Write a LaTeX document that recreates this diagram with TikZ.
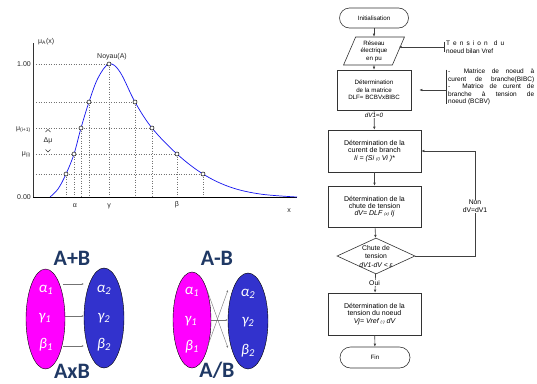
\documentclass[tikz,border=0pt]{standalone}
\usepackage{fontspec}
\setmainfont{Liberation Sans}
\newfontfamily\calfont{Carlito}
\usetikzlibrary{arrows.meta,shapes.geometric}
\definecolor{curveblue}{RGB}{20,20,240}
\definecolor{mag}{RGB}{255,0,255}
\definecolor{ellblue}{RGB}{50,50,205}
\definecolor{navy}{RGB}{31,56,100}
\begin{document}
\begin{tikzpicture}[x=1pt,y=-1pt,
  lab/.style={font=\fontsize{7}{8}\selectfont, text=black!85, inner sep=0pt},
  gridline/.style={black!55, dotted, line width=0.5pt},
  mk/.style={circle, draw=black, fill=white, line width=0.5pt, inner sep=0pt, minimum size=4pt},
  fcbox/.style={draw=black!80, line width=0.6pt, align=center, inner sep=1pt, font=\fontsize{6.2}{7.5}\selectfont},
  bigbox/.style={fcbox, font=\fontsize{7}{7.2}\selectfont},
  fctext/.style={align=center, inner sep=0.5pt, font=\fontsize{6.2}{7.5}\selectfont},
  notetext/.style={align=left, inner sep=0pt, font=\fontsize{6.5}{7.6}\selectfont},
  fcarrow/.style={draw=black!75, line width=0.6pt, -{Latex[length=3pt,width=2.6pt]}},
  thinarrow/.style={draw=black!55, line width=0.4pt, -{Latex[length=2.2pt,width=1.8pt]}},
  ell/.style={ellipse, draw=black, line width=0.4pt, inner sep=0pt},
  greek/.style={text=white, font=\calfont\itshape\fontsize{15}{15}\selectfont, inner sep=0pt},
  optitle/.style={text=navy, font=\calfont\bfseries\fontsize{22}{22}\selectfont, inner sep=0pt}
]
\useasboundingbox (0,0) rectangle (537,383);
\fill[white] (0,0) rectangle (537,383);

% ---------------- membership chart ----------------
\coordinate (o) at (33,197);
\coordinate (hs) at (36,197);
\coordinate (c1) at (66,174);
\coordinate (c2) at (74,154);
\coordinate (c3) at (81,128);
\coordinate (c4) at (89,102);
\coordinate (c5) at (109,64);
\coordinate (c6) at (135,102);
\coordinate (c7) at (152,128);
\coordinate (c8) at (177,154);
\coordinate (c9) at (203,174);

\foreach \c/\d in {c1/c9,c2/c8,c3/c7,c4/c6,c5/c5}{
  \draw[gridline] (hs |- \c) -- (\d);
}
\foreach \c in {c1,c2,c3,c4,c5,c6,c7,c8,c9}{
  \draw[gridline] (\c) -- (\c |- o);
}

\draw[black!80, line width=0.8pt] (33,43) -- (o);
\draw[black, line width=0.9pt] (o) -- (297,197);

\draw[curveblue, line width=0.7pt] plot[smooth, tension=0.6] coordinates {
  (50,197) (58,189) (66,174) (74,154) (81,128) (89,102) (98,78) (109,64)
  (120,72) (135,102) (152,128) (177,154) (203,174) (230,187) (260,194) (297,197)};

\foreach \c [count=\i] in {c1,c2,c3,c4,c5,c6,c7,c8,c9}{
  \node[mk] (p\i) at (\c) {};
}

\node[lab, anchor=west] (ylab) at (38,42) {μ\textsubscript{A}(x)};
\node[lab, anchor=east] (one) at (31,64) {1.00};
\node[lab, anchor=east] (zero) at (31,197) {0.00};
\node[lab, anchor=east] (mui1) at (31,130) {μ\textsubscript{(i+1)}};
\node[lab, anchor=east] (mui) at (31,155) {μ\textsubscript{(i)}};
\node[lab] (dmu) at (48,141) {Δμ};
\draw[black!80, line width=0.5pt] (45.5,132) -- (48,129.5) -- (50.5,132);
\draw[black!80, line width=0.5pt] (45.5,149.5) -- (48,152) -- (50.5,149.5);
\node[lab, anchor=south] (noyau) at (112,60) {Noyau(A)};
\node[lab] (alab) at (75,206) {α};
\node[lab] (glab) at (109,206) {γ};
\node[lab] (blab) at (177,205) {β};
\node[lab] (xlab) at (289,211) {x};

% ---------------- A+B / AxB ----------------
\node[ell, fill=mag, minimum width=39pt, minimum height=100pt] (m1) at (45.5,319) {};
\node[ell, fill=ellblue, minimum width=40pt, minimum height=100pt] (b1) at (104,318) {};
\node[greek] (a1) at (46,290) {α\textsubscript{1}};
\node[greek] (g1) at (45,318) {γ\textsubscript{1}};
\node[greek] (be1) at (46,345) {β\textsubscript{1}};
\node[greek] (a2) at (104,290) {α\textsubscript{2}};
\node[greek] (g2) at (104,318) {γ\textsubscript{2}};
\node[greek] (be2) at (104,345) {β\textsubscript{2}};
\coordinate (l1s) at (63,284); \coordinate (l1e) at (84,284);
\coordinate (l2s) at (65,316); \coordinate (l2e) at (84,316);
\coordinate (l3s) at (63,346); \coordinate (l3e) at (84,346);
\draw[thinarrow] (l1s) -- (l1e);
\draw[thinarrow] (l2s) -- (l2e);
\draw[thinarrow] (l3s) -- (l3e);
\node[optitle] (tplus) at (72,258) {A+B};
\node[optitle] (ttimes) at (72,371) {AxB};

% ---------------- A-B / A/B ----------------
\node[ell, fill=mag, minimum width=38pt, minimum height=96pt] (m2) at (192,320) {};
\node[ell, fill=ellblue, minimum width=40pt, minimum height=96pt] (b2) at (248,321) {};
\node[greek] (a3) at (192,292) {α\textsubscript{1}};
\node[greek] (g3) at (191,321) {γ\textsubscript{1}};
\node[greek] (be3) at (192,347) {β\textsubscript{1}};
\node[greek] (a4) at (248,294) {α\textsubscript{2}};
\node[greek] (g4) at (248,322) {γ\textsubscript{2}};
\node[greek] (be4) at (248,351) {β\textsubscript{2}};
\coordinate (x1s) at (207,290); \coordinate (x1e) at (228,348);
\coordinate (x2s) at (207,348); \coordinate (x2e) at (228,290);
\coordinate (x3s) at (211,320); \coordinate (x3e) at (228,320);
\draw[thinarrow] (x1s) -- (x1e);
\draw[thinarrow] (x2s) -- (x2e);
\draw[thinarrow] (x3s) -- (x3e);
\node[optitle] (tminus) at (217,258) {A-B};
\node[optitle] (tdiv) at (217,370) {A/B};

% ---------------- flowchart ----------------
\node[fcbox, rounded corners=10pt, minimum width=69pt, minimum height=20pt] (init) at (374,18) {Initialisation};
\node[fcbox, trapezium, trapezium left angle=67, trapezium right angle=113, trapezium stretches=true,
      minimum width=61pt, minimum height=28pt, inner sep=0pt] (res) at (374,51) {Réseau\\électrique\\en pu};
\node[fcbox, minimum width=74pt, minimum height=40pt] (dlf) at (374,90) {Détermination\\de la matrice\\DLF= BCBVxBIBC};
\node[bigbox, minimum width=93pt, minimum height=42pt] (cur) at (374.5,151)
  {Détermination de la\\curent de branch\\{\itshape Ii = (Si {\fontsize{4}{4}\selectfont(/)} Vi )*}};
\node[bigbox, minimum width=93pt, minimum height=41pt] (chute) at (374.5,206.5)
  {Détermination de la\\chute de tension\\{\itshape dV= DLF {\fontsize{4}{4}\selectfont(x)} Ij}};
\node[diamond, draw=black!80, line width=0.6pt, minimum width=78pt, minimum height=36pt, inner sep=0pt] (dia) at (376,256) {};
\node[fctext, font=\fontsize{6.8}{8.5}\selectfont] (diat) at (376,256.5) {Chute de\\tension\\{\itshape dV1-dV < ε}};
\node[bigbox, minimum width=93pt, minimum height=42pt] (vj) at (374.5,314)
  {Détermination de la\\tension du noeud\\{\itshape Vj= Vref {\fontsize{4}{4}\selectfont(-)} dV}};
\node[fcbox, rounded corners=10.5pt, minimum width=70pt, minimum height=21pt] (fin) at (375,357.5) {Fin};

\draw[fcarrow] (init) -- (res);
\draw[fcarrow] (res) -- (dlf);
\draw[fcarrow] (dlf) -- (cur);
\node[fctext, fill=white] (dv10) at (374,115.5) {\itshape dV1=0};
\draw[fcarrow] (cur) -- (chute);
\draw[fcarrow] (chute) -- (dia);
\draw[fcarrow] (dia) -- (vj);
\node[fctext, fill=white, font=\fontsize{6.8}{7.5}\selectfont] (oui) at (374.5,283) {Oui};
\draw[fcarrow] (vj) -- (fin);

\coordinate (ret) at (475,256);
\draw[fcarrow] (dia.east) -- (ret) |- (cur.east);
\node[fctext, fill=white, font=\fontsize{6.8}{7.8}\selectfont] (non) at (475,206.5) {Non\\dV=dV1};

% notes
\node[notetext, anchor=west] (tn) at (446,47)
  {\makebox[58pt][s]{T e n s i o n \ d u}\\noeud bilan Vref};
\draw[black!80, line width=0.6pt] ([xshift=-1.5pt,yshift=-1pt]tn.north west) -- ([xshift=-1.5pt,yshift=1pt]tn.south west);
\draw[fcarrow] ([xshift=-1.5pt]tn.west) -- (tn.west -| res.east);

\node[notetext, anchor=west] (mn) at (448,87)
  {\makebox[86pt][s]{- \ Matrice de noeud à}\\
   \makebox[86pt][s]{curent de branche(BIBC)}\\
   \makebox[86pt][s]{- \ Matrice de curent de}\\
   \makebox[86pt][s]{branche à tension de}\\
   noeud (BCBV)};
\draw[black!80, line width=0.6pt] ([xshift=-1.5pt,yshift=-1pt]mn.north west) -- ([xshift=-1.5pt,yshift=1pt]mn.south west);
\draw[fcarrow] ([xshift=-1.5pt,yshift=-3pt]mn.west) -- ([xshift=8pt]dlf.east);
\end{tikzpicture}
\end{document}
